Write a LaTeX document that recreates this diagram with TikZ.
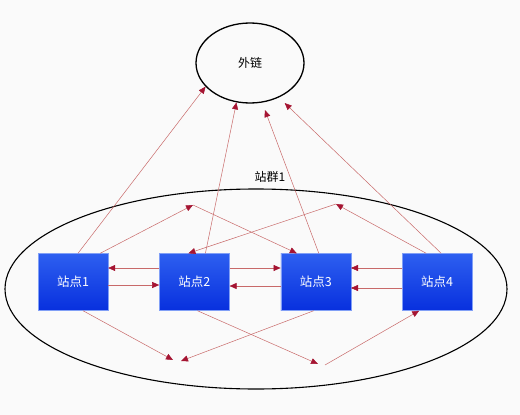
\documentclass[tikz,border=0pt]{standalone}
\usepackage{fontspec}
\newfontfamily\cjk{Noto Sans CJK SC}
\usetikzlibrary{positioning,shapes.geometric,arrows.meta}
\definecolor{bgwhite}{RGB}{250,250,250}
\definecolor{boxtop}{RGB}{45,95,240}
\definecolor{boxbot}{RGB}{8,48,222}
\definecolor{linered}{RGB}{200,105,105}
\definecolor{tipred}{RGB}{165,20,50}

\begin{document}
\begin{tikzpicture}[
        x=1pt, y=-1pt,
        node distance=51pt,
        cloud/.style={draw, ellipse, line width=1.3pt},
        site/.style={minimum width=70pt, minimum height=57pt, inner sep=0pt,
                     top color=boxtop, bottom color=boxbot,
                     draw=boxtop!60!white, line width=0.4pt,
                     text=white, font=\cjk\fontsize{12.5}{14}\selectfont},
        arr/.style={-{Triangle[length=7pt, width=6pt, color=tipred]},
                    draw=linered, line width=0.5pt},
    ]
    \useasboundingbox[fill=bgwhite] (0,0) rectangle (520,415);

    % --- Zewnętrzne ---
    \node[cloud, minimum width=108pt, minimum height=80pt,
          font=\cjk\fontsize{12}{14}\selectfont] (link) at (250,63) {外链};

    % --- Grupa ---
    \node[cloud, line width=1.1pt, minimum width=502pt, minimum height=200pt] (group) at (256,289) {};
    \node[above=2pt of group.north, xshift=14pt, font=\cjk\fontsize{12}{14}\selectfont] (grouplabel) {站群1};

    % --- Stacje ---
    \node[site] (s1) at (73,282) {站点1};
    \node[site, right=of s1] (s2) {站点2};
    \node[site, right=of s2] (s3) {站点3};
    \node[site, right=of s3] (s4) {站点4};

    % --- Punkty pośrednie ---
    \coordinate (upA) at (193,205);
    \coordinate (upB) at (336,204);
    \coordinate (lowC1) at (173,360);
    \coordinate (lowC2) at (181,361);
    \coordinate (lowD1) at (318,364);
    \coordinate (lowD2) at (325,365);

    % --- Strzałki w górę ---
    \draw[arr] ([xshift=5pt]s1.north) -- (link.208);
    \draw[arr] ([xshift=11pt]s2.north) -- (link.251);
    \draw[arr, shorten >=8pt] ([xshift=3pt]s3.north) -- (link.287);
    \draw[arr, shorten >=8pt] ([xshift=4pt]s4.north) -- (link.310);

    % --- Strzałki krzyżowe (góra) ---
    \draw[arr] ([xshift=-8pt]s1.north east) -- (upA);
    \draw[arr] (upA) -- ([xshift=-19pt]s3.north);
    \draw[arr] ([xshift=-11pt]s4.north) -- (upB);
    \draw[arr] (upB) -- ([xshift=-6pt]s2.north);

    % --- Strzałki poziome ---
    \draw[arr] ([yshift=14pt]s2.west) -- ([yshift=14pt]s1.east);
    \draw[arr] ([yshift=-3pt]s1.east) -- ([yshift=-3pt]s2.west);
    \draw[arr] ([yshift=14pt]s2.east) -- ([yshift=14pt]s3.west);
    \draw[arr] ([yshift=-4pt]s3.west) -- ([yshift=-4pt]s2.east);
    \draw[arr] ([yshift=14pt]s4.west) -- ([yshift=14pt]s3.east);
    \draw[arr] ([yshift=-6pt]s4.west) -- ([yshift=-6pt]s3.east);

    % --- Strzałki krzyżowe (dół) ---
    \draw[arr] ([xshift=10pt]s1.south) -- (lowC1);
    \draw[arr] ([xshift=-2pt]s3.south) -- (lowC2);
    \draw[arr] ([xshift=3pt]s2.south) -- (lowD1);
    \draw[arr] (lowD2) -- ([xshift=-18pt]s4.south);
    \end{tikzpicture}
\end{document}
